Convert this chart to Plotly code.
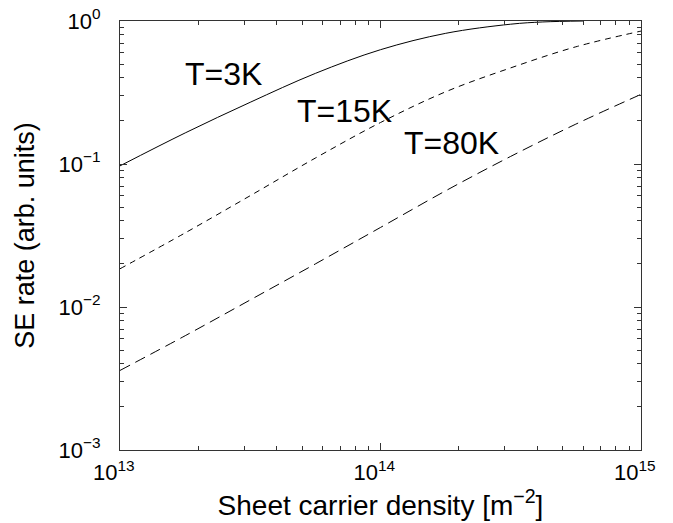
import plotly.graph_objects as go

# Sheet carrier density [m^-2]
density = [1.0e13, 1.78e13, 3.16e13, 5.62e13, 1.0e14, 1.78e14, 3.16e14, 5.62e14, 1.0e15]
density_3k = [1.0e13, 1.78e13, 3.16e13, 5.62e13, 1.0e14, 1.78e14, 3.16e14, 4.2e14, 6.0e14]

# SE rate (arb. units)
se_3k = [0.097, 0.165, 0.27, 0.43, 0.63, 0.82, 0.95, 0.985, 1.0]
se_15k = [0.0185, 0.033, 0.060, 0.11, 0.195, 0.32, 0.47, 0.66, 0.85]
se_80k = [0.0036, 0.0063, 0.0112, 0.020, 0.036, 0.065, 0.113, 0.19, 0.307]

labels = ["T=3K", "T=15K", "T=80K"]
# label positions (log10 of data units)
label_x = [13.397, 13.860, 14.273]
label_y = [-0.371, -0.626, -0.850]

x_tickvals = [1e13, 1e14, 1e15]
x_ticktext = ["10<sup>13</sup>\u00a0\u00a0", "10<sup>14</sup>\u00a0\u00a0", "10<sup>15</sup>\u00a0\u00a0"]
y_tickvals = [1e-3, 1e-2, 1e-1, 1e0]
y_ticktext = ["10<sup>\u22123</sup>", "10<sup>\u22122</sup>", "10<sup>\u22121</sup>", "10<sup>0</sup>"]

FONT = "Liberation Sans, Arial, Helvetica, sans-serif"

fig = go.Figure()
fig.add_trace(go.Scatter(x=density_3k, y=se_3k, mode="lines",
                         line=dict(color="black", width=1, shape="spline"),
                         name=labels[0]))
fig.add_trace(go.Scatter(x=density, y=se_15k, mode="lines",
                         line=dict(color="black", width=1, dash="6px,5px", shape="spline"),
                         name=labels[1]))
fig.add_trace(go.Scatter(x=density, y=se_80k, mode="lines",
                         line=dict(color="black", width=1, dash="11px,6px", shape="spline"),
                         name=labels[2]))

for t, lx, ly in zip(labels, label_x, label_y):
    fig.add_annotation(x=lx, y=ly, xref="x", yref="y", text=t, showarrow=False,
                       font=dict(family=FONT, size=32, color="black"))

axis_common = dict(
    showgrid=False, zeroline=False, showline=True, linecolor="#333", linewidth=1,
    mirror="allticks", ticks="inside", ticklen=7, tickcolor="#333", automargin=False,
    ticklabeloverflow="allow",
    tickfont=dict(family=FONT, size=22, color="black"),
    minor=dict(ticks="inside", ticklen=4, tickcolor="#333", dtick="D1", showgrid=False),
)

fig.update_xaxes(type="log", range=[13, 15], tickmode="array",
                 tickvals=x_tickvals, ticktext=x_ticktext, ticklabelstandoff=3,
                 title=dict(text="Sheet carrier density [m<sup>\u22122</sup>]",
                            font=dict(family=FONT, size=28, color="black"), standoff=5),
                 **axis_common)
fig.update_yaxes(type="log", range=[-3, 0], tickmode="array",
                 tickvals=y_tickvals, ticktext=y_ticktext, ticklabelstandoff=14,
                 title=dict(text="SE rate (arb. units)",
                            font=dict(family=FONT, size=27, color="black"), standoff=16),
                 **axis_common)

fig.update_layout(
    width=673, height=523, autosize=False,
    margin=dict(l=120, r=32, t=21, b=73),
    plot_bgcolor="white", paper_bgcolor="white",
    showlegend=False,
    font=dict(family=FONT, color="black"),
)

fig.write_html("out.html", config={"displayModeBar": False},
               post_script="document.body.style.margin='0';")
